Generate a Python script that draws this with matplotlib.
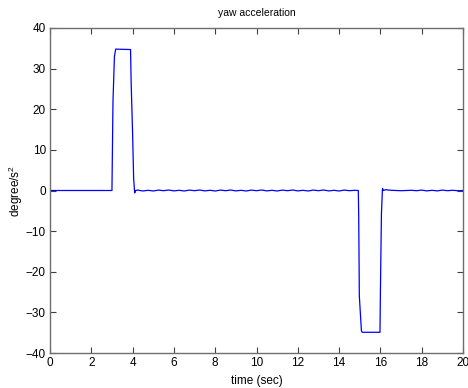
import numpy as np
import matplotlib.pyplot as plt

plt.rcParams['font.family'] = ['Liberation Sans', 'DejaVu Sans']
plt.rcParams['mathtext.fontset'] = 'custom'
plt.rcParams['mathtext.rm'] = 'Liberation Sans'
plt.rcParams['mathtext.it'] = 'Liberation Sans:italic'

# ---- data ----
# positive pulse (sec, deg/s^2)
t_pos = [0.0, 3.0, 3.05, 3.12, 3.18, 3.9, 3.93, 4.0, 4.05, 4.1, 4.15]
y_pos = [0.0, 0.0, 22.0, 33.0, 34.8, 34.7, 26.5, 14.0, 3.0, -0.6, 0.0]

# small ripple after the first pulse, sampled every 0.25 s from 4.25 s
ripple_a = [0.1, -0.12, 0.05, -0.12, 0.1, -0.05, 0.12, -0.1, 0.05, -0.12,
            0.1, -0.05, 0.12, -0.1, 0.05, -0.12, 0.1, -0.05, 0.12, -0.1,
            0.05, -0.12, 0.1, -0.05, 0.12, -0.1, 0.05, -0.12, 0.1, -0.05,
            0.12, -0.1, 0.05, -0.12, 0.1, -0.05, 0.12, -0.1, 0.05, -0.12,
            0.1, -0.05, 0.05]

# negative pulse
t_neg = [14.93, 14.95, 14.98, 15.08, 15.12, 15.98, 16.0, 16.05, 16.1, 16.15]
y_neg = [0.0, -6.5, -26.0, -34.5, -34.9, -34.9, -25.0, -5.7, 0.5, 0.0]

# ripple after the second pulse, every 0.25 s from 16.25 s
ripple_b = [0.2, 0.05, 0.0, -0.05, 0.0, 0.05, -0.05, 0.1, -0.1, 0.05,
            -0.1, 0.1, -0.05, 0.05, -0.05]
t_end = 20.0

t_a = 4.25 + 0.25 * np.arange(len(ripple_a))
t_b = 16.25 + 0.25 * np.arange(len(ripple_b))

t = np.concatenate([t_pos, t_a, t_neg, t_b, [t_end]])
y = np.concatenate([y_pos, ripple_a, y_neg, ripple_b, [0.0]])

fig = plt.figure(figsize=(4.68, 3.88), dpi=100)
ax = fig.add_axes([50/468, 1 - 353/388, 413/468, 325/388])

ax.plot(t, y, color='#0000ff', linewidth=0.9)

ax.set_xlim(0, 20)
ax.set_ylim(-40, 40)
ax.set_xticks(np.arange(0, 21, 2))
ax.set_yticks(np.arange(-40, 41, 10))

for s in ax.spines.values():
    s.set_color('#6e6e6e')
    s.set_linewidth(1.0)
ax.tick_params(direction='in', length=4, width=0.8, color='#404040',
               labelsize=8.5, top=True, right=True, pad=3)

ax.set_title('yaw acceleration', fontsize=7.5, pad=9)
ax.set_xlabel('time (sec)', fontsize=8.5, labelpad=4)
ax.set_ylabel('degree/s$^2$', fontsize=8.5)
ax.yaxis.set_label_coords(-0.06, 0.5)

fig.savefig('out.png', dpi=100)
